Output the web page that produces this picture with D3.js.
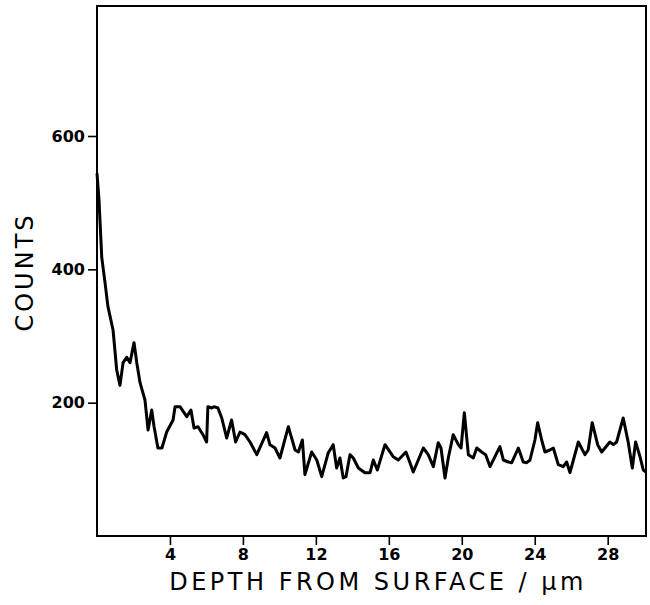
<!DOCTYPE html>
<html>
<head>
<meta charset="utf-8">
<script src="https://cdn.jsdelivr.net/npm/d3@7"></script>
<style>
  body { margin: 0; background: #fff; }
  text { font-family: "DejaVu Sans", sans-serif; fill: #000; }
</style>
</head>
<body>
<div id="chart"></div>
<script>
// depth (µm) and counts
const depth = [0, 0.11, 0.26, 0.44, 0.60, 0.88, 1.08, 1.26, 1.43, 1.63, 1.81, 2.03, 2.18, 2.36, 2.63, 2.80, 3.00, 3.13, 3.34, 3.56,
  3.82, 4.17, 4.28, 4.55, 4.92, 5.15, 5.32, 5.54, 5.81, 6.01, 6.08, 6.29, 6.41, 6.63, 6.84, 7.11, 7.38, 7.60, 7.84, 8.11,
  8.39, 8.76, 9.30, 9.48, 9.76, 10.03, 10.49, 10.86, 11.04, 11.26, 11.40, 11.77, 12.05, 12.32, 12.68, 12.95, 13.14, 13.32, 13.50, 13.65,
  13.87, 14.05, 14.33, 14.69, 14.97, 15.15, 15.37, 15.79, 16.24, 16.52, 16.94, 17.16, 17.34, 17.89, 18.16, 18.44, 18.71, 18.86, 19.08, 19.26,
  19.53, 19.81, 19.96, 20.14, 20.36, 20.63, 20.82, 21.09, 21.31, 21.55, 22.09, 22.28, 22.55, 22.74, 23.10, 23.37, 23.56, 23.74, 24.01, 24.16,
  24.38, 24.56, 24.83, 25.02, 25.29, 25.56, 25.75, 25.93, 26.39, 26.75, 26.93, 27.15, 27.45, 27.67, 28.12, 28.31, 28.49, 28.85, 29.13, 29.35,
  29.53, 29.77, 29.95, 30.10]
const counts = [544, 504, 418, 380, 344, 309, 249, 226, 260, 268, 260, 290, 260, 230, 204, 159, 189, 164, 132, 132,
  156, 174, 194, 194, 179, 189, 162, 164, 152, 141, 194, 192, 194, 192, 177, 147, 174, 141, 156, 152,
  141, 122, 155, 137, 132, 117, 164, 129, 126, 144, 92, 126, 114, 89, 125, 137, 102, 117, 87, 89,
  122, 117, 102, 95, 95, 114, 99, 137, 119, 114, 126, 110, 96, 132, 122, 104, 140, 132, 87, 117,
  152, 137, 132, 185, 122, 117, 132, 126, 122, 104, 134, 114, 111, 110, 132, 111, 110, 114, 144, 170,
  144, 126, 129, 132, 107, 104, 111, 95, 141, 122, 129, 170, 137, 126, 141, 137, 141, 177, 140, 102,
  141, 119, 99, 96]
const xTicks = [4, 8, 12, 16, 20, 24, 28]
const yTicks = [200, 400, 600]

const W = 650, H = 605
const margin = {top: 6, right: 4, bottom: 69, left: 97}
const width = W - margin.left - margin.right,
      height = H - margin.top - margin.bottom

const svg = d3.select("#chart").append("svg").attr("width", W).attr("height", H)
const g = svg.append("g").attr("transform", `translate(${margin.left},${margin.top})`)

const x = d3.scaleLinear().domain([0, 30.1]).range([0, width])
const y = d3.scaleLinear().domain([0, 795]).range([height, 0])

// frame
g.append("rect").attr("width", width).attr("height", height)
  .attr("fill", "none").attr("stroke", "#000").attr("stroke-width", 2)

const xAxis = g.append("g").attr("transform", `translate(0,${height})`)
  .call(d3.axisBottom(x).tickValues(xTicks).tickSize(9).tickPadding(4).tickFormat(d3.format("d")))
const yAxis = g.append("g")
  .call(d3.axisLeft(y).tickValues(yTicks).tickSize(9).tickPadding(3).tickFormat(d3.format("d")))

for (const a of [xAxis, yAxis]) {
  a.select(".domain").remove()
  a.selectAll("line").attr("stroke", "#000").attr("stroke-width", 1.6)
  a.selectAll("text").style("font-size", "16px").style("font-weight", "bold")
}

const line = d3.line().x((d, i) => x(depth[i])).y(d => y(d))
g.append("path").datum(counts)
  .attr("d", line)
  .attr("fill", "none")
  .attr("stroke", "#000")
  .attr("stroke-width", 3)
  .attr("stroke-linejoin", "round")

svg.append("text")
  .attr("transform", `translate(33,272) rotate(-90)`)
  .attr("text-anchor", "middle")
  .style("font-size", "24px")
  .style("letter-spacing", "3px")
  .text("COUNTS")

svg.append("text")
  .attr("x", 378).attr("y", 590)
  .attr("text-anchor", "middle")
  .style("font-size", "24px")
  .style("letter-spacing", "3.5px")
  .text("DEPTH FROM SURFACE / µm")
</script>
</body>
</html>
